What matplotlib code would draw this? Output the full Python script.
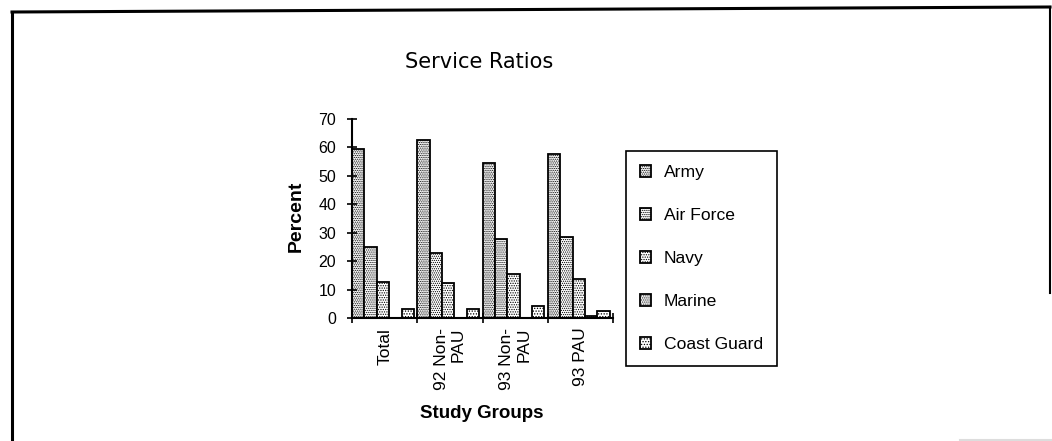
import numpy as np
import matplotlib
matplotlib.use("Agg")
import matplotlib.pyplot as plt
from matplotlib.lines import Line2D

### data
groups = ["Total", "92 Non-\nPAU", "93 Non-\nPAU", "93 PAU"]
services = ["Army", "Air Force", "Navy", "Marine", "Coast Guard"]
army = [59.6, 62.6, 54.5, 57.6]
air_force = [25.0, 22.7, 27.7, 28.5]
navy = [12.6, 12.4, 15.4, 13.6]
marine = [0.0, 0.0, 0.0, 0.6]
coast_guard = [3.0, 3.2, 4.2, 2.4]
series = [army, air_force, navy, marine, coast_guard]
yticks = [0, 10, 20, 30, 40, 50, 60, 70]

### styles
hatches = ["." * 9, "." * 8, "." * 7, "." * 8, "." * 6]
plt.rcParams["hatch.linewidth"] = 0.6
plt.rcParams["font.family"] = ["Liberation Sans", "DejaVu Sans"]

fig = plt.figure(figsize=(10.52, 4.41), dpi=100)
ax = fig.add_axes([352 / 1052, 1 - 318 / 441, 261 / 1052, 199 / 441])

x = np.arange(len(groups))
step = 0.19
for j, (name, vals) in enumerate(zip(services, series)):
    ax.bar(x + j * step, vals, width=step, align="edge", facecolor="white",
           edgecolor="black", linewidth=1.3, hatch=hatches[j], label=name)

ax.set_xlim(0, len(groups))
ax.set_ylim(0, 70)
ax.set_yticks(yticks)
ax.set_xticks(np.arange(len(groups) + 1))
ax.set_xticklabels([])
ax.set_xticks(x + 0.5, groups, minor=True, rotation=90, ha="center", va="top",
              multialignment="right", fontsize=12.5)
ax.tick_params(axis="x", which="major", direction="inout", length=7, width=1.2)
ax.tick_params(axis="x", which="minor", length=0, pad=7)
ax.tick_params(axis="y", direction="inout", length=7, width=1.2, pad=8, labelsize=11.5)
for s in ["top", "right"]:
    ax.spines[s].set_visible(False)
for s in ["left", "bottom"]:
    ax.spines[s].set_linewidth(1.5)

ax.set_ylabel("Percent", fontsize=14, fontweight="bold")
ax.yaxis.set_label_coords(-0.18, 0.51)
ax.set_xlabel("Study Groups", fontsize=13.5, fontweight="bold")
ax.xaxis.set_label_coords(0.496, -0.435)

fig.text(479 / 1052, 1 - 62 / 441, "Service Ratios", fontsize=15,
         family="DejaVu Sans", ha="center", va="center")

leg = ax.legend(loc="upper left", bbox_to_anchor=(626 / 1052, 1 - 151 / 441),
                bbox_transform=fig.transFigure, borderaxespad=0, fontsize=12.6,
                handlelength=0.65, handleheight=0.7, handletextpad=0.7,
                labelspacing=1.58, borderpad=0.8, fancybox=False,
                edgecolor="black", framealpha=1)
leg.get_frame().set_linewidth(1.2)

# outer page frame
fig.add_artist(Line2D([12 / 1052, 12 / 1052], [0, 1 - 12 / 441], color="black", lw=2.2))
fig.add_artist(Line2D([12 / 1052, 1050 / 1052], [1 - 12 / 441, 1 - 7 / 441], color="black", lw=2.2))
fig.add_artist(Line2D([1050 / 1052, 1050 / 1052], [1 - 7 / 441, 1 - 293 / 441], color="black", lw=1.5))
fig.add_artist(Line2D([960 / 1052, 1], [1 / 441, 1 / 441], color="#dddddd", lw=1.5))

fig.savefig("out.png", dpi=100)
